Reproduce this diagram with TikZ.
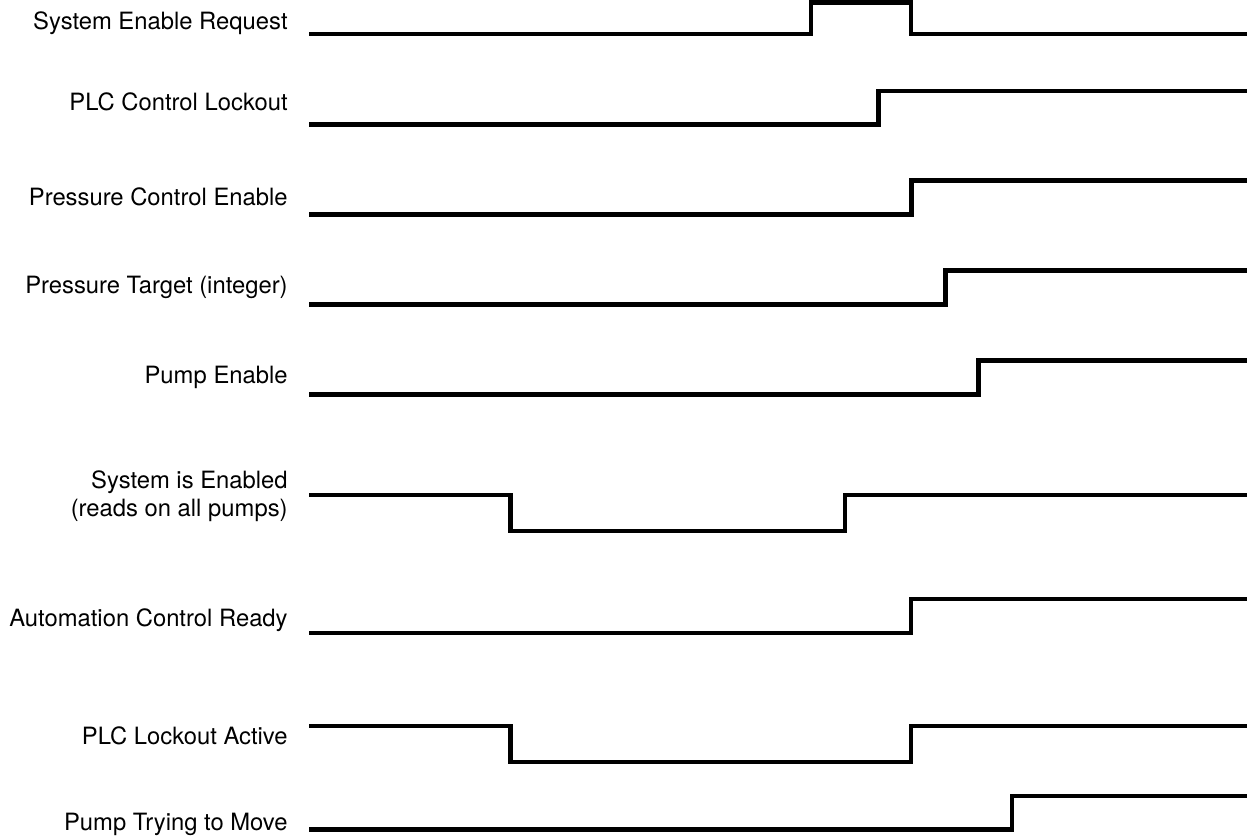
\documentclass[tikz,border=0pt]{standalone}
\usepackage{fontspec}
\setmainfont{TeX Gyre Heros}
\usetikzlibrary{positioning}
\tikzset{
  x = 0.5pt, y = -0.5pt,
  signal/.style = {line width = 2.25pt, line join = miter, line cap = butt},
  siglabel/.style = {anchor = base east, inner sep = 0pt, align = right,
    font = \fontsize{11.9}{14}\selectfont}
}
\begin{document}
\begin{tikzpicture}

\useasboundingbox (0,0) rectangle (1250,836);

\node [siglabel] (ser) at (288,29) {System Enable Request};
\node [siglabel] (pcl) at (288,110) {PLC Control Lockout};
\node [siglabel] (pce) at (288,205) {Pressure Control Enable};
\node [siglabel] (ptg) at (288,293) {Pressure Target (integer)};
\node [siglabel] (pen) at (288,383) {Pump Enable};
\node [siglabel] (sie) at (288,516) {System is Enabled\\(reads on all pumps)};
\node [siglabel] (acr) at (288,626) {Automation Control Ready};
\node [siglabel] (pla) at (288,744) {PLC Lockout Active};
\node [siglabel] (ptm) at (288,830) {Pump Trying to Move};

\draw [signal] (309,34) -| (811,2.5) -| (911,34) -- (1247,34);
\draw [signal] (309,124.5) -| (878.5,91) -- (1247,91);
\draw [signal] (309,214.5) -| (911.5,180.5) -- (1247,180.5);
\draw [signal] (309,304.5) -| (945.5,270.5) -- (1247,270.5);
\draw [signal] (309,394.5) -| (978.5,360.5) -- (1247,360.5);
\draw [signal] (309,495) -| (510.5,531) -| (845,495) -- (1247,495);
\draw [signal] (309,633) -| (911,599) -- (1247,599);
\draw [signal] (309,726) -| (510.5,762) -| (911,726) -- (1247,726);
\draw [signal] (309,829.5) -| (1012,796) -- (1247,796);

\end{tikzpicture}
\end{document}
